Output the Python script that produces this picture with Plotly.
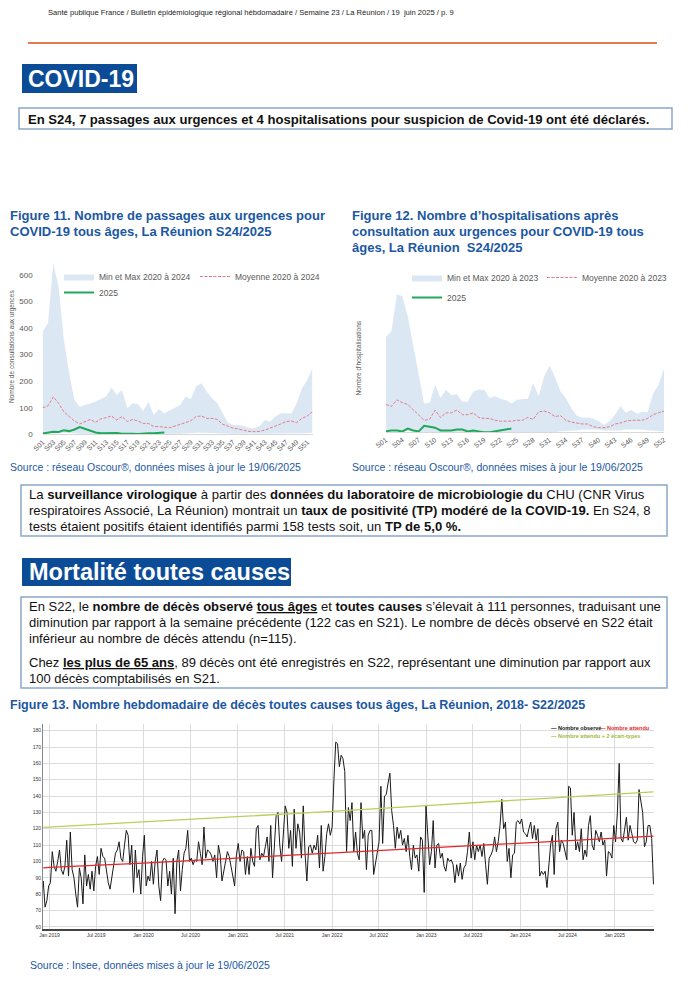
import plotly.graph_objects as go
import pandas as pd

# The page body adds an 8px margin; the figure is sized to fit the 689x1000 window.
OFF = 8
W, H = 689 - OFF, 1000 - OFF
def X(px): return (px - OFF) / W
def Y(py): return 1 - (py - OFF) / H

ARIAL = "Liberation Sans, Arial, sans-serif"
TITLE_BLUE = "#1b57a3"
BOX_BLUE = "#0c4c97"
BORDER = "#8aa6c9"
BAND = "#dce7f4"
MEAN = "#e27b86"
GREEN = "#1fa85a"
GREY = "#595959"

# ---------------- Figure 11 / 12 data (weeks S01..S52) ----------------
weeks = [f"S{i:02d}" for i in range(1, 53)]
week_num = list(range(1, 53))

urg_max = [387, 418, 644, 556, 355, 230, 129, 104, 110, 117, 123, 133, 142, 176, 148, 167, 98, 117, 114, 89,
           123, 73, 94, 79, 89, 98, 110, 142, 132, 180, 192, 161, 136, 117, 79, 44, 35, 35, 31, 25,
           23, 31, 54, 48, 67, 79, 79, 77, 117, 173, 205, 248]
urg_min = [2, 3, 5, 4, 6, 5, 3, 2, 2, 1, 1, 1, 0, 0, 0, 0, 0, 0, 0, 0,
           0, 0, 0, 0, 0, 0, 2, 3, 5, 6, 6, 5, 5, 4, 3, 3, 2, 2, 2, 2,
           3, 3, 4, 4, 4, 3, 3, 3, 3, 4, 5, 6]
urg_mean = [100, 107, 141, 117, 85, 67, 50, 39, 48, 56, 45, 58, 63, 69, 54, 67, 48, 56, 50, 41,
            41, 29, 29, 26, 25, 31, 39, 44, 51, 67, 69, 60, 60, 56, 38, 31, 23, 20, 16, 11,
            10, 11, 16, 23, 31, 39, 48, 50, 44, 60, 69, 85]
urg_2025 = [3, 6, 10, 9, 15, 12, 18, 27, 20, 12, 7, 4, 5, 6, 5, 2, 3, 2, 1, 3, 4, 4, 5, 7]

hosp_max = [103, 109, 149, 147, 125, 93, 60, 31, 32, 51, 37, 46, 40, 41, 33, 33, 44, 46, 46, 37,
            39, 36, 35, 31, 35, 36, 36, 53, 39, 60, 72, 60, 44, 37, 26, 18, 16, 16, 15, 12,
            8, 12, 19, 28, 21, 24, 20, 22, 22, 42, 51, 69]
hosp_min = [1, 1, 1, 1, 1, 1, 1, 0, 0, 0, 0, 0, 0, 0, 0, 0, 0, 0, 0, 0,
            0, 0, 0, 0, 0, 0, 0, 0, 0, 0, 0, 0, 1, 1, 2, 2, 3, 3, 3, 3,
            2, 2, 2, 2, 3, 3, 3, 3, 2, 2, 1, 1]
hosp_mean = [30, 28, 35, 32, 30, 24, 19, 13, 14, 24, 16, 21, 21, 24, 19, 19, 21, 16, 15, 15,
             13, 12, 12, 12, 13, 13, 16, 14, 22, 23, 21, 17, 18, 13, 11, 10, 9, 9, 6, 5,
             5, 6, 9, 10, 12, 13, 13, 13, 15, 19, 21, 23]
hosp_2025 = [1, 2, 2, 1, 4, 2, 1, 7, 6, 5, 2, 2, 2, 3, 3, 1, 2, 1, 0, 0, 1, 2, 3, 4]

# ---------------- Figure 13 data (weekly deaths) ----------------
deaths_dec2018 = [88, 72, 76, 85, 87]
deaths_h1_2019 = [106, 97, 94, 100, 107, 95, 92, 97, 113, 91, 118, 95, 90, 80, 72, 96, 90, 74, 104, 85, 92, 83, 94, 82, 97, 103]
deaths_h2_2019 = [92, 108, 103, 102, 95, 87, 83, 90, 96, 105, 107, 112, 102, 100, 110, 119, 116, 98, 110, 81, 107, 90, 95, 80, 103, 116]
deaths_h1_2020 = [85, 91, 88, 100, 86, 100, 107, 85, 76, 100, 102, 101, 85, 94, 80, 102, 68, 100, 107, 82, 95, 105, 108, 119, 100, 102]
deaths_h2_2020 = [98, 101, 100, 112, 105, 98, 121, 102, 107, 106, 104, 100, 104, 90, 110, 104, 88, 95, 100, 106, 103, 97, 92, 85, 104, 111]
deaths_h1_2021 = [100, 107, 106, 92, 103, 92, 108, 100, 97, 120, 122, 101, 105, 103, 109, 115, 100, 122, 90, 110, 128, 130, 110, 100, 120, 134]
deaths_h2_2021 = [130, 108, 119, 97, 132, 108, 123, 118, 102, 134, 105, 88, 109, 110, 105, 110, 107, 116, 96, 122, 94, 103, 117, 123, 116, 121]
deaths_h1_2022 = [150, 173, 172, 158, 165, 163, 155, 106, 133, 125, 136, 106, 118, 105, 101, 136, 114, 119, 95, 116, 119, 119, 92, 98, 106, 112]
deaths_h2_2022 = [146, 111, 140, 141, 148, 154, 131, 122, 108, 121, 114, 119, 110, 114, 106, 116, 103, 95, 110, 102, 104, 94, 115, 113, 81, 134]
deaths_h1_2023 = [116, 98, 106, 125, 96, 110, 111, 102, 105, 97, 94, 102, 100, 101, 98, 87, 98, 91, 99, 89, 96, 98, 106, 118, 102, 112]
deaths_h2_2023 = [101, 110, 106, 110, 103, 111, 98, 86, 102, 104, 107, 115, 106, 112, 122, 138, 120, 124, 100, 108, 90, 104, 105, 124, 125, 123]
deaths_h1_2024 = [126, 118, 117, 115, 120, 124, 114, 122, 113, 120, 91, 94, 92, 94, 84, 98, 110, 116, 92, 120, 124, 106, 113, 111, 106, 101]
deaths_h2_2024 = [146, 145, 116, 130, 107, 112, 106, 120, 101, 107, 103, 122, 128, 110, 107, 119, 116, 112, 118, 110, 113, 91, 106, 105, 102, 122]
deaths_h1_2025 = [112, 130, 160, 114, 112, 120, 127, 113, 122, 117, 112, 111, 113, 144, 138, 130, 109, 112, 122, 122, 114, 86]

deaths = (deaths_dec2018 + deaths_h1_2019 + deaths_h2_2019 + deaths_h1_2020 + deaths_h2_2020
          + deaths_h1_2021 + deaths_h2_2021 + deaths_h1_2022 + deaths_h2_2022 + deaths_h1_2023
          + deaths_h2_2023 + deaths_h1_2024 + deaths_h2_2024 + deaths_h1_2025)
death_dates = pd.date_range("2018-12-08", periods=len(deaths), freq="7D")

expected_dates = ["2018-12-08", "2019-01-01", "2020-01-01", "2021-01-01", "2022-01-01",
                  "2023-01-01", "2024-01-01", "2025-01-01", "2025-05-31"]
expected_vals = [96, 96.4, 99, 102, 105, 108, 111, 114, 115.5]
upper_vals = [120.8, 121, 124, 127.3, 130.6, 134.2, 137.6, 141, 142.6]

fig = go.Figure()

# ---- Figure 11 ----
fig.add_trace(go.Scatter(x=week_num, y=urg_min, mode="lines", line=dict(width=0), showlegend=False,
                         hoverinfo="skip", xaxis="x", yaxis="y"))
fig.add_trace(go.Scatter(x=week_num, y=urg_max, mode="lines", line=dict(width=0), fill="tonexty",
                         fillcolor=BAND, name="Min et Max 2020 à 2024", legend="legend", xaxis="x", yaxis="y"))
fig.add_trace(go.Scatter(x=week_num, y=urg_mean, mode="lines", line=dict(color=MEAN, width=1, dash="3px,1.5px"),
                         name="Moyenne 2020 à 2024", legend="legend", xaxis="x", yaxis="y"))
fig.add_trace(go.Scatter(x=week_num[:len(urg_2025)], y=urg_2025, mode="lines", line=dict(color=GREEN, width=2),
                         name="2025", legend="legend2", xaxis="x", yaxis="y"))

# ---- Figure 12 ----
fig.add_trace(go.Scatter(x=week_num, y=hosp_min, mode="lines", line=dict(width=0), showlegend=False,
                         hoverinfo="skip", xaxis="x2", yaxis="y2"))
fig.add_trace(go.Scatter(x=week_num, y=hosp_max, mode="lines", line=dict(width=0), fill="tonexty",
                         fillcolor=BAND, name="Min et Max 2020 à 2023", legend="legend3", xaxis="x2", yaxis="y2"))
fig.add_trace(go.Scatter(x=week_num, y=hosp_mean, mode="lines", line=dict(color=MEAN, width=1, dash="3px,1.5px"),
                         name="Moyenne 2020 à 2023", legend="legend3", xaxis="x2", yaxis="y2"))
fig.add_trace(go.Scatter(x=week_num[:len(hosp_2025)], y=hosp_2025, mode="lines", line=dict(color=GREEN, width=2),
                         name="2025", legend="legend4", xaxis="x2", yaxis="y2"))

# ---- Figure 13 ----
fig.add_trace(go.Scatter(x=death_dates, y=deaths, mode="lines", line=dict(color="#1a1a1a", width=1),
                         name="Nombre observé", showlegend=False, xaxis="x3", yaxis="y3"))
fig.add_trace(go.Scatter(x=expected_dates, y=upper_vals, mode="lines", line=dict(color="#b9cf5a", width=1.3),
                         name="Nombre attendu + 2 écart-types", showlegend=False, xaxis="x3", yaxis="y3"))
fig.add_trace(go.Scatter(x=expected_dates, y=expected_vals, mode="lines", line=dict(color="#e0282c", width=1.3),
                         name="Nombre attendu", showlegend=False, xaxis="x3", yaxis="y3"))

leg_common = dict(orientation="h", bgcolor="rgba(0,0,0,0)", font=dict(family=ARIAL, size=8.5, color=GREY),
                  xanchor="left", yanchor="top", itemwidth=30, entrywidthmode="pixels", tracegroupgap=0,
                  traceorder="normal")

annotations = []
def txt(x, y, text, size, color="#111111", family=ARIAL, anchor="left", angle=0):
    annotations.append(dict(x=X(x), y=Y(y), xref="paper", yref="paper", text=text, showarrow=False,
                            xanchor=anchor, yanchor="middle", textangle=angle,
                            font=dict(family=family, size=size, color=color)))

txt(46, 13, "Santé publique France / Bulletin épidémiologique régional hébdomadaire / Semaine 23 / La Réunion / 19  juin 2025 / p. 9", 7.6, "#222222")
txt(26, 79, "<b>COVID-19</b>", 23, "white")
txt(26, 119, "<b>En S24, 7 passages aux urgences et 4 hospitalisations pour suspicion de Covid-19 ont été déclarés.</b>", 13.1)

txt(8, 215, "<b>Figure 11. Nombre de passages aux urgences pour</b>", 13, TITLE_BLUE)
txt(8, 231, "<b>COVID-19 tous âges, La Réunion S24/2025</b>", 13, TITLE_BLUE)
txt(350, 215, "<b>Figure 12. Nombre d’hospitalisations après</b>", 13, TITLE_BLUE)
txt(350, 231, "<b>consultation aux urgences pour COVID-19 tous</b>", 13, TITLE_BLUE)
txt(350, 247, "<b>âges, La Réunion  S24/2025</b>", 13, TITLE_BLUE)
txt(8, 467, "Source : réseau Oscour®, données mises à jour le 19/06/2025", 10.5, TITLE_BLUE)
txt(350, 467, "Source : réseau Oscour®, données mises à jour le 19/06/2025", 10.5, TITLE_BLUE)

txt(27, 494, "La <b>surveillance virologique</b> à partir des <b>données du laboratoire de microbiologie du</b> CHU (CNR Virus", 13.1)
txt(27, 510, "respiratoires Associé, La Réunion) montrait un <b>taux de positivité (TP) modéré de la COVID-19.</b> En S24, 8", 13.1)
txt(27, 526, "tests étaient positifs étaient identifiés parmi 158 tests soit, un <b>TP de 5,0 %.</b>", 13.1)

txt(27, 572, "<b>Mortalité toutes causes</b>", 23.5, "white")

txt(27, 606, "En S22, le <b>nombre de décès observé</b> <b><u>tous âges</u></b> et <b>toutes causes</b> s’élevait à 111 personnes, traduisant une", 13)
txt(27, 622, "diminution par rapport à la semaine précédente (122 cas en S21). Le nombre de décès observé en S22 était", 13)
txt(27, 638, "inférieur au nombre de décès attendu (n=115).", 13)
txt(27, 662, "Chez <b><u>les plus de 65 ans</u></b>, 89 décès ont été enregistrés en S22, représentant une diminution par rapport aux", 13)
txt(27, 678, "100 décès comptabilisés en S21.", 13)

txt(8, 705, "<b>Figure 13. Nombre hebdomadaire de décès toutes causes tous âges, La Réunion, 2018- S22/2025</b>", 12.5, TITLE_BLUE)
txt(28, 965, "Source : Insee, données mises à jour le 19/06/2025", 10.5, TITLE_BLUE)

# figure 13 legend (small text legend)
txt(549, 728, "<b>— Nombre observé</b>", 5.5, "#111111")
txt(598, 728, "<b>— Nombre attendu</b>", 5.5, "#e0282c")
txt(549, 736, "<b>— Nombre attendu + 2 écart-types</b>", 5.5, "#9dbb3c")

shapes = [
    dict(type="line", xref="paper", yref="paper", x0=X(28), x1=X(657), y0=Y(43), y1=Y(43),
         line=dict(color="#e57b4c", width=2)),
    dict(type="rect", xref="paper", yref="paper", x0=X(22), x1=X(137), y0=Y(93), y1=Y(64),
         fillcolor=BOX_BLUE, line=dict(width=0), layer="below"),
    dict(type="rect", xref="paper", yref="paper", x0=X(19), x1=X(672), y0=Y(129), y1=Y(108),
         line=dict(color=BORDER, width=1.5)),
    dict(type="rect", xref="paper", yref="paper", x0=X(21), x1=X(667), y0=Y(536), y1=Y(485),
         line=dict(color=BORDER, width=1.5)),
    dict(type="rect", xref="paper", yref="paper", x0=X(22), x1=X(291), y0=Y(586), y1=Y(558),
         fillcolor=BOX_BLUE, line=dict(width=0), layer="below"),
    dict(type="rect", xref="paper", yref="paper", x0=X(21), x1=X(667), y0=Y(688), y1=Y(597),
         line=dict(color=BORDER, width=1.5)),
]

small_tick = dict(family=ARIAL, size=7, color=GREY)

fig.update_layout(
    width=W, height=H, autosize=False, margin=dict(l=0, r=0, t=0, b=0, pad=0, autoexpand=False),
    paper_bgcolor="white", plot_bgcolor="white",
    annotations=annotations, shapes=shapes,
    xaxis=dict(domain=[X(42.7), X(312.5)], range=[1, 52], anchor="y", automargin=False,
               tickmode="array", tickvals=week_num[::2], ticktext=weeks[::2], tickangle=-45,
               tickfont=small_tick, showgrid=False, zeroline=False, showline=True,
               linecolor="#d9d9d9", linewidth=1, ticks=""),
    yaxis=dict(domain=[Y(434.3), Y(259.1)], range=[0, 660], anchor="x", automargin=False,
               tickmode="array", tickvals=[0, 100, 200, 300, 400, 500, 600],
               tickfont=dict(family=ARIAL, size=8, color=GREY), ticklabelstandoff=9,
               showgrid=False, zeroline=False, showline=False,
               title=dict(text="Nombre de consultations aux urgences", font=dict(family=ARIAL, size=6.5, color=GREY),
                          standoff=5)),
    xaxis2=dict(domain=[X(386), X(664)], range=[1, 52], anchor="y2", automargin=False,
                tickmode="array", tickvals=week_num[::3], ticktext=weeks[::3], tickangle=-35,
                tickfont=small_tick, showgrid=False, zeroline=False, showline=True,
                linecolor="#d9d9d9", linewidth=1, ticks=""),
    yaxis2=dict(domain=[Y(432.3), Y(284.1)], range=[0, 160], anchor="x2", automargin=False,
                showticklabels=False, showgrid=False, zeroline=False, showline=False,
                title=dict(text="Nombre d’hospitalisations", font=dict(family=ARIAL, size=6.5, color=GREY),
                           standoff=22)),
    xaxis3=dict(domain=[X(43), X(654)], range=["2018-12-07", "2025-06-02"], anchor="y3", automargin=False,
                type="date", tick0="2019-01-01", dtick="M6", tickformat="%b %Y",
                tickfont=dict(family=ARIAL, size=5, color="#333333"),
                showgrid=True, gridcolor="#dcdcdc", gridwidth=1, zeroline=False,
                showline=True, linecolor="#444444", linewidth=1.5, ticks=""),
    yaxis3=dict(domain=[Y(929.2), Y(724.2)], range=[58.5, 184], anchor="x3", automargin=False,
                tickmode="array", tickvals=list(range(60, 181, 10)),
                tickfont=dict(family=ARIAL, size=5, color="#333333"), ticklabelstandoff=0,
                showgrid=True, gridcolor="#dcdcdc", gridwidth=1, zeroline=False,
                showline=True, linecolor="#888888", linewidth=1, ticks=""),
    legend=dict(x=X(59), y=Y(262), entrywidth=91, **leg_common),
    legend2=dict(x=X(59), y=Y(278), entrywidth=91, **leg_common),
    legend3=dict(x=X(407), y=Y(263), entrywidth=90, **leg_common),
    legend4=dict(x=X(407), y=Y(283), entrywidth=90, **leg_common),
)

fig.write_html("out.html")
